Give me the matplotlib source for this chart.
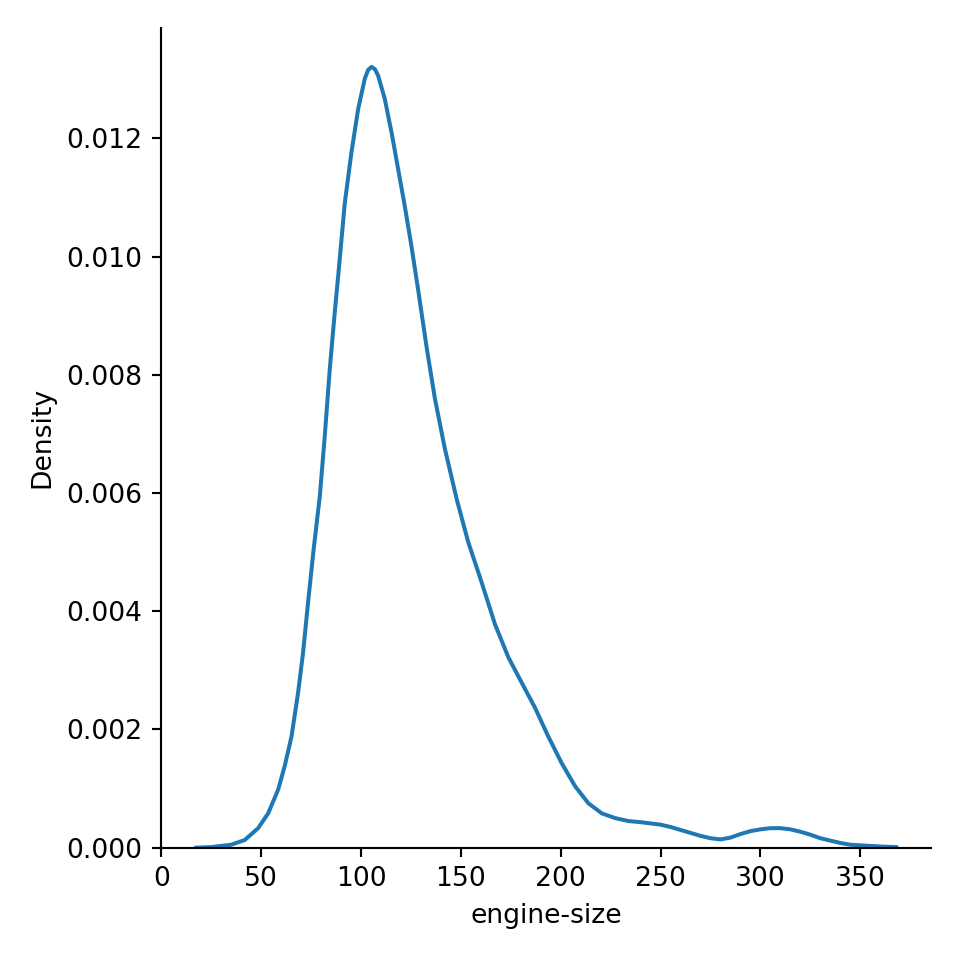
import matplotlib.pyplot as plt

# KDE curve of engine-size
engine_size = [
    17.5, 25, 30, 35, 41.8, 48.5, 53.5, 58.5, 61.8, 65.2, 68.5, 71, 73.5,
    76.2, 79.4, 81.9, 84.4, 86.9, 88.6, 91.9, 95.2, 98.6, 101.9, 103.6,
    105.3, 107, 108.6, 111.9, 115.3, 118.6, 121.9, 125.3, 128.7, 132.8,
    137, 142, 147.9, 153.7, 160.4, 167.1, 173.8, 180.5, 187.1, 193.8,
    200.5, 207.2, 213.9, 220.6, 227.3, 234, 240.6, 245, 250, 255, 260, 265,
    270, 275, 280, 285, 290, 295, 300, 305, 310, 315, 320, 325, 330, 335,
    340, 345, 350, 360, 368,
]
density = [
    0.0, 0.00001, 0.00003, 0.00005, 0.00013, 0.00033, 0.00058, 0.00098,
    0.00138, 0.00188, 0.00262, 0.0033, 0.00415, 0.00502, 0.00595, 0.00698,
    0.00811, 0.00907, 0.00968, 0.01091, 0.01176, 0.0125, 0.01301, 0.01316,
    0.01321, 0.01317, 0.01306, 0.01267, 0.0121, 0.01148, 0.01086, 0.01017,
    0.00942, 0.00848, 0.0076, 0.00675, 0.0059, 0.00517, 0.00449, 0.00378,
    0.00322, 0.00279, 0.00237, 0.00188, 0.00143, 0.00104, 0.00075, 0.00058,
    0.0005, 0.00045, 0.00043, 0.00041, 0.00039, 0.00035, 0.0003, 0.00025,
    0.0002, 0.00016, 0.00014, 0.00017, 0.00023, 0.00028, 0.00031, 0.00033,
    0.00033, 0.00031, 0.00027, 0.00022, 0.00016, 0.00012, 0.00008, 0.00005,
    0.00004, 0.00002, 0.00001,
]

fig, ax = plt.subplots(figsize=(5, 5), dpi=192)
fig.subplots_adjust(left=0.168, right=0.970, top=0.971, bottom=0.117)

ax.plot(engine_size, density, color="#1f77b4", linewidth=1.5)
ax.set_ylim(bottom=0)
ax.set_xlim(left=0)
ax.set_xlabel("engine-size")
ax.set_ylabel("Density")
ax.spines["top"].set_visible(False)
ax.spines["right"].set_visible(False)

plt.savefig("out.png", dpi=192)
